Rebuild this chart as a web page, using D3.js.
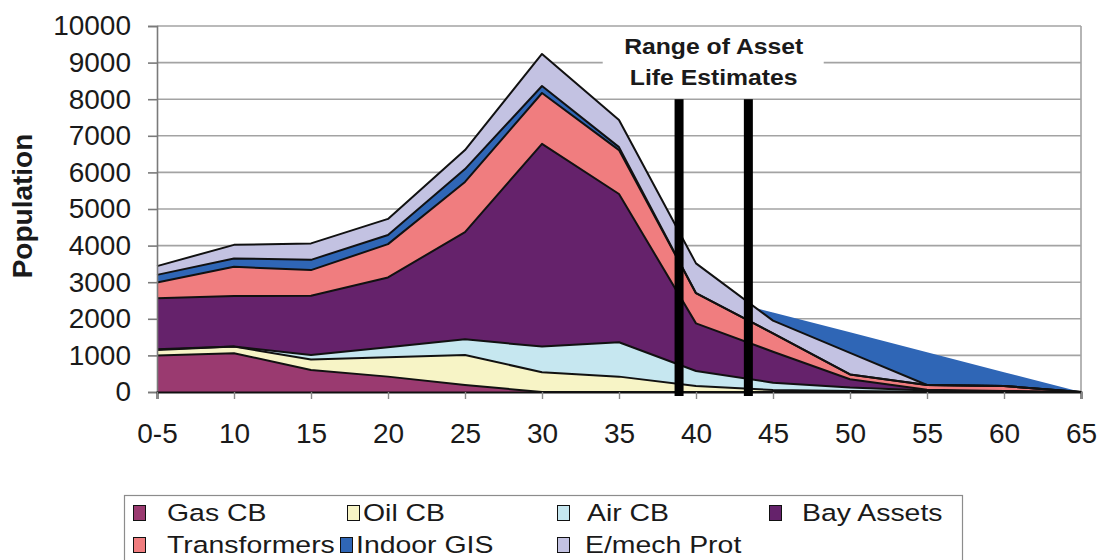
<!DOCTYPE html>
<html>
<head>
<meta charset="utf-8">
<script src="https://cdn.jsdelivr.net/npm/d3@7"></script>
<style>
  html, body { margin: 0; padding: 0; background: #ffffff; }
  svg { display: block; }
  text { font-family: "Liberation Sans", Arial, sans-serif; fill: #1a1a1a; }
</style>
</head>
<body>
<svg id="chart" width="1104" height="560"></svg>
<script>
// ---- data ----
const categories = ["0-5","10","15","20","25","30","35","40","45","50","55","60","65"];
const gasCB        = [1000,1060, 600, 420, 190,   0,   0,   0,   0,   0,   0,   0, 0];
const oilCB        = [ 150, 180, 290, 530, 820, 540, 420, 165,  55,  30,  10,   0, 0];
const airCB        = [  20,   0, 120, 270, 430, 700, 940, 410, 200,  90,  30,  10, 0];
const bayAssets    = [1390,1380,1620,1910,2930,5540,4050,1300, 845, 230,  20,  20, 0];
const transformers = [ 430, 800, 700, 910,1370,1390,1200, 824, 500, 130, 130, 134, 0];
const indoorGIS    = [ 210, 230, 280, 250, 350, 190,  80,   0,   0,   0,   0,   0, 0];
const emechProt    = [ 240, 370, 450, 440, 520, 875, 740, 816, 350, 590,   0,   0, 0];
// outer edge of the Indoor GIS wedge showing above the stack at older ages
const indoorGISOuter = [null,null,null,null,null,null,null,2730,2170,1630,1085,540,0];
const seriesNames = ["Gas CB","Oil CB","Air CB","Bay Assets","Transformers","Indoor GIS","E/mech Prot"];
const yTicks = [0,1000,2000,3000,4000,5000,6000,7000,8000,9000,10000];
const lifeRange = [38.9, 43.4];      // ages of the two black markers
const lifeMarkerTop = 8000;
const annotationLines = ["Range of Asset","Life Estimates"];
const yTitle = "Population";

// ---- styles ----
const colors = {
  "Gas CB": "#9a3a70",
  "Oil CB": "#f7f4c6",
  "Air CB": "#c6e7f0",
  "Bay Assets": "#65226b",
  "Transformers": "#f07d7f",
  "Indoor GIS": "#2f66b6",
  "E/mech Prot": "#c3c2e2"
};
const seriesData = [gasCB, oilCB, airCB, bayAssets, transformers, indoorGIS, emechProt];

const svg = d3.select("#chart");
const pLeft = 157, pRight = 1081, pTop = 26, pBottom = 392;

const x = d3.scalePoint().domain(categories).range([pLeft, pRight]).padding(0);
// linear age scale matched to the category positions (0-5 -> 5, 10 -> 10, ...)
const xAge = d3.scaleLinear().domain([5, 65]).range([pLeft, pRight]);
const y = d3.scaleLinear().domain([0, 10000]).range([pBottom, pTop]);

// table for stacking
const table = categories.map((c, i) => {
  const row = { cat: c };
  seriesNames.forEach((n, k) => row[n] = seriesData[k][i]);
  return row;
});
const stack = d3.stack().keys(seriesNames)(table);

// gridlines
svg.append("g").selectAll("line").data(yTicks).join("line")
  .attr("x1", pLeft).attr("x2", pRight)
  .attr("y1", d => y(d)).attr("y2", d => y(d))
  .attr("stroke", "#a3a3a3").attr("stroke-width", 1.6);
// right border
svg.append("line").attr("x1", pRight).attr("x2", pRight).attr("y1", y(10000)).attr("y2", y(0))
  .attr("stroke", "#a3a3a3").attr("stroke-width", 1.6);

// Indoor GIS outer wedge (behind the stack)
const outerData = categories.map((c, i) => ({ cat: c, v: indoorGISOuter[i] }));
svg.append("path")
  .datum(outerData)
  .attr("fill", colors["Indoor GIS"])
  .attr("d", d3.area().defined(d => d.v !== null)
    .x(d => x(d.cat)).y0(y(0)).y1(d => y(d.v)));

// stacked areas
const area = d3.area().x(d => x(d.data.cat)).y0(d => y(d[0])).y1(d => y(d[1]));
svg.append("g").selectAll("path").data(stack).join("path")
  .attr("fill", d => colors[d.key])
  .attr("d", area);
// outlines on top edges
const topLine = d3.line().x(d => x(d.data.cat)).y(d => y(d[1]));
svg.append("g").selectAll("path").data(stack).join("path")
  .attr("fill", "none").attr("stroke", "#111").attr("stroke-width", 2)
  .attr("stroke-linejoin", "round")
  .attr("d", topLine);

// y axis
const yAxis = svg.append("g").attr("transform", `translate(${pLeft},0)`)
  .call(d3.axisLeft(y).tickValues(yTicks).tickSize(9).tickPadding(17).tickFormat(d3.format("d")));
yAxis.select(".domain").attr("stroke", "#7a7a7a").attr("stroke-width", 1.6);
yAxis.selectAll(".tick line").attr("stroke", "#7a7a7a").attr("stroke-width", 1.6);
yAxis.selectAll("text").attr("font-size", 28).attr("fill", "#1a1a1a")
  .style("font-family", "'Liberation Sans', Arial, sans-serif");

// x axis
const xAxis = svg.append("g").attr("transform", `translate(0,${pBottom})`)
  .call(d3.axisBottom(x).tickSize(7).tickPadding(24));
xAxis.select(".domain").attr("stroke", "#111").attr("stroke-width", 2);
xAxis.selectAll(".tick line").attr("stroke", "#8a8a8a").attr("stroke-width", 1.4);
xAxis.selectAll("text").attr("font-size", 28).attr("fill", "#1a1a1a")
  .style("font-family", "'Liberation Sans', Arial, sans-serif");

// y title
svg.append("text")
  .attr("transform", "translate(32,206) rotate(-90)")
  .attr("text-anchor", "middle")
  .attr("font-size", 28).attr("font-weight", "bold")
  .text(yTitle);

// annotation box
const annCx = (xAge(lifeRange[0]) + xAge(lifeRange[1])) / 2;
svg.append("rect").attr("x", annCx - 111).attr("y", 28).attr("width", 221).attr("height", 69)
  .attr("fill", "#fff");
annotationLines.forEach((t, i) => {
  svg.append("text")
    .attr("transform", `translate(${annCx},${54 + i * 31}) scale(1.1,1)`)
    .attr("text-anchor", "middle")
    .attr("font-size", 22.5).attr("font-weight", "bold")
    .text(t);
});

// life markers
svg.append("g").selectAll("rect").data(lifeRange).join("rect")
  .attr("x", d => xAge(d) - 4.5).attr("width", 9)
  .attr("y", y(lifeMarkerTop)).attr("height", y(0) - y(lifeMarkerTop) + 4)
  .attr("fill", "#000");

// legend
svg.append("rect").attr("x", 124.5).attr("y", 495.5).attr("width", 838).attr("height", 80)
  .attr("fill", "#fff").attr("stroke", "#8c8c8c").attr("stroke-width", 1.2);
const legendPos = [
  { sx: 133, tx: 167, row: 0 },
  { sx: 347, tx: 363, row: 0 },
  { sx: 557, tx: 587, row: 0 },
  { sx: 769, tx: 802, row: 0 },
  { sx: 133, tx: 167, row: 1 },
  { sx: 340, tx: 356, row: 1 },
  { sx: 557, tx: 585, row: 1 }
];
const lg = svg.append("g");
seriesNames.forEach((n, i) => {
  const p = legendPos[i];
  const base = 521 + p.row * 32;
  lg.append("rect").attr("x", p.sx + 0.5).attr("y", base - 15.5).attr("width", 12).attr("height", 15)
    .attr("fill", colors[n]).attr("stroke", "#111").attr("stroke-width", 1);
  lg.append("text")
    .attr("transform", `translate(${p.tx},${base}) scale(1.16,1)`)
    .attr("font-size", 24.5)
    .text(n);
});
</script>
</body>
</html>
